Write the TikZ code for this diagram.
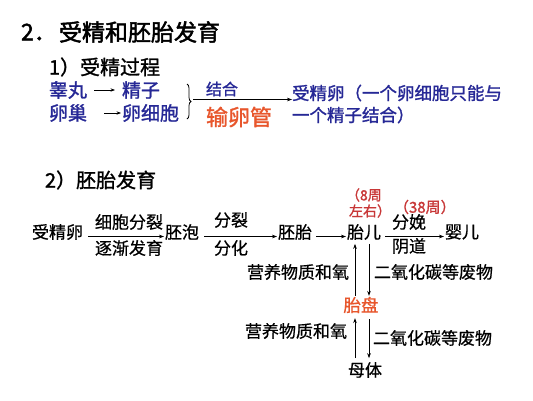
\documentclass[tikz,border=0pt]{standalone}
\usepackage{fontspec}
\setmainfont{Noto Sans CJK SC}
\newfontfamily\fbody[FakeBold=0.7]{Noto Sans CJK SC}
\newfontfamily\fmid[FakeBold=1.3]{Noto Sans CJK SC}
\newfontfamily\fheavy[FakeBold=2]{Noto Sans CJK SC}
\usetikzlibrary{arrows.meta,decorations.pathreplacing}
\definecolor{bluetxt}{RGB}{38,40,150}
\definecolor{orangered}{RGB}{232,86,44}
\definecolor{darkred}{RGB}{200,55,55}
\tikzset{
  txt/.style={inner sep=0pt,outer sep=0pt,text=black},
  fsize/.style={font=#1},
  body/.style={txt,font=\fbody\fontsize{17pt}{17pt}\selectfont},
  bluet/.style={txt,text=bluetxt,font=\fmid\fontsize{19pt}{19pt}\selectfont},
  bluef/.style={txt,text=bluetxt,font=\fmid\fontsize{17.5pt}{17.5pt}\selectfont},
  note/.style={txt,text=darkred,font=\fmid\fontsize{14pt}{14pt}\selectfont},
  conn/.style={draw=black,line width=0.7pt,-{Stealth[length=5pt,width=3.6pt]}},
  bconn/.style={draw=black,line width=0.7pt,-{Stealth[length=4.5pt,width=3.4pt]}},
}
\begin{document}
\begin{tikzpicture}[x=1pt,y=-1pt]
\path[use as bounding box,fill=white] (0,0) rectangle (533,400);
% title
\node[txt,font=\fheavy\fontsize{23pt}{23pt}\selectfont,anchor=west] (titlenum) at (21,32) {2．};
\node[txt,font=\fheavy\fontsize{23pt}{23pt}\selectfont,anchor=west] (title) at (59,32) {受精和胚胎发育};
\node[txt,font=\fmid\fontsize{20pt}{20pt}\selectfont,anchor=west] (sec1) at (49,67) {1）受精过程};
% part 1
\node[bluet,anchor=west] (testis) at (49,90) {睾丸};
\node[bluet,anchor=west] (sperm) at (122,90) {精子};
\node[bluet,anchor=west] (ovary) at (49,113) {卵巢};
\node[bluet,anchor=west] (egg) at (122,113) {卵细胞};
\draw[bconn,shorten <=7pt,shorten >=7pt] (testis.east) -- (sperm.west);
\draw[bconn,shorten <=17pt,shorten >=1pt] (ovary.east) -- (egg.west);
\draw[line width=0.8pt,decorate,decoration={brace,amplitude=4pt}] (187,84) -- (187,119);
\coordinate (bt) at (193,99.5);
\node[bluef,anchor=west] (zyg) at (292,93) {受精卵（一个卵细胞只能与};
\node[bluef,anchor=west] (zyg2) at (292,115) {一个精子结合）};
\draw[conn] (bt) -- (zyg.west |- bt);
\node[txt,text=bluetxt,font=\fmid\fontsize{16pt}{16pt}\selectfont] (comb) at (222,89) {结合};
\node[txt,text=orangered,font=\fmid\fontsize{22pt}{22pt}\selectfont] (ovid) at (239,117) {输卵管};
% part 2
\node[txt,font=\fmid\fontsize{20pt}{20pt}\selectfont,anchor=west] (sec2) at (45,180) {2）胚胎发育};
\node[body,anchor=west] (fe) at (32,232) {受精卵};
\node[body,anchor=west] (bl) at (165,232) {胚泡};
\node[body,anchor=west] (em) at (278,232) {胚胎};
\node[body,anchor=west] (fet) at (347,232) {胎儿};
\node[body,anchor=west] (baby) at (445,232) {婴儿};
\draw[conn] ([xshift=5pt,yshift=-4.5pt]fe.east) -- ([xshift=-1pt,yshift=-4.5pt]bl.west);
\draw[conn] ([xshift=5pt,yshift=-4.5pt]bl.east) -- ([xshift=-1pt,yshift=-4.5pt]em.west);
\draw[conn] ([xshift=4pt,yshift=-4.5pt]em.east) -- ([xshift=-1pt,yshift=-4.5pt]fet.west);
\draw[conn] ([xshift=4pt,yshift=-4.5pt]fet.east) -- ([xshift=-1pt,yshift=-4.5pt]baby.west);
\node[body] (l1a) at (129,222) {细胞分裂};
\node[body] (l1b) at (129,248) {逐渐发育};
\node[body] (l2a) at (231,220) {分裂};
\node[body] (l2b) at (231,248) {分化};
\node[body] (l3a) at (409,222) {分娩};
\node[body] (l3b) at (409,246) {阴道};
\node[note,anchor=west] (n8a) at (346,195) {（8周};
\node[note,anchor=west] (n8b) at (349,211) {左右）};
\node[note,font=\fmid\fontsize{15pt}{15pt}\selectfont,anchor=west] (n38) at (394,207) {（38周）};
% placenta
\node[txt,text=orangered,font=\fbody\fontsize{17.5pt}{17.5pt}\selectfont] (pl) at (361,305) {胎盘};
\node[body] (mo) at (365,370) {母体};
\coordinate (xu) at (355,0);
\coordinate (xd) at (369,0);
\draw[conn] ([yshift=1pt]pl.north -| xu) -- ([yshift=-4pt]fet.south -| xu);
\draw[conn] ([yshift=-4pt]fet.south -| xd) -- ([yshift=1pt]pl.north -| xd);
\draw[conn] ([yshift=4pt]mo.north -| xu) -- ([yshift=-5pt]pl.south -| xu);
\draw[conn] ([yshift=-6pt]pl.south -| xd) -- ([yshift=4pt]mo.north -| xd);
\node[body,anchor=east] (nu1) at (349,272) {营养物质和氧};
\node[body,anchor=west] (w1) at (374,272) {二氧化碳等废物};
\node[body,anchor=east] (nu2) at (347,331) {营养物质和氧};
\node[body,anchor=west] (w2) at (373,338) {二氧化碳等废物};
\end{tikzpicture}
\end{document}
